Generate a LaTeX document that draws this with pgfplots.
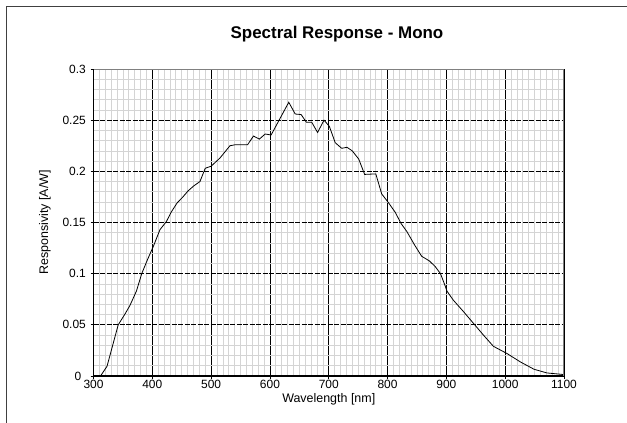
\documentclass[border=0pt]{standalone}
\usepackage{fontspec}
\setmainfont{Liberation Sans}
\usepackage{pgfplots}
\pgfplotsset{compat=1.18}
\pgfplotstableread{
x y
312 0
323 0.0095
342 0.050
354 0.061
362 0.069
373 0.083
382 0.100
392 0.114
402 0.127
413 0.143
424 0.151
432 0.160
442 0.169
452 0.175
461 0.181
471 0.186
481 0.190
490 0.203
500 0.205
515 0.213
532 0.225
541 0.226
562 0.226
572 0.2345
582 0.2315
592 0.2365
602 0.2355
632 0.2675
643 0.256
653 0.2555
662 0.248
671 0.248
681 0.238
692 0.250
701 0.244
711 0.228
722 0.2225
731 0.2235
740 0.220
751 0.212
761 0.197
780 0.1975
790 0.178
802 0.169
813 0.160
823 0.149
833 0.141
846 0.128
858 0.117
871 0.1125
881 0.107
890 0.100
898 0.088
901 0.083
907 0.078
912 0.074
929 0.063
946 0.0515
963 0.040
980 0.029
1003 0.022
1026 0.0137
1049 0.0066
1071 0.003
1100 0.0014
}\resp
\begin{document}
\begin{tikzpicture}
\useasboundingbox (0,0) rectangle (627bp,-423bp);
\draw[line width=1.3bp, color=black!75] (6.5bp,-423bp) -- (6.5bp,-6.5bp) -- (627bp,-6.5bp);
\node[font=\fontsize{17}{20}\selectfont\bfseries, anchor=center, inner sep=0pt] at (337bp,-34bp) {Spectral Response - Mono};
\begin{axis}[
  at={(93.5bp,-376bp)}, anchor=south west,
  width=470.5bp, height=307bp, scale only axis,
  xmin=300, xmax=1100, ymin=0, ymax=0.3,
  xtick={300,400,500,600,700,800,900,1000,1100},
  xticklabels={300,400,500,600,700,800,900,1000,1100},
  ytick={0,0.05,0.1,0.15,0.2,0.25,0.3},
  yticklabels={{0\hspace*{4.5bp}},0.05,0.1,0.15,0.2,0.25,0.3},
  minor x tick num=9, minor y tick num=4,
  grid=both,
  major x grid style={black, line width=0.7bp},
  major y grid style={black, line width=0.7bp, dash pattern=on 5bp off 1.5bp},
  minor grid style={black!17, line width=0.7bp},
  axis x line*=bottom, axis y line*=left,
  axis line style={black, line width=1.3bp},
  tick align=outside, major tick length=3bp, minor tick length=0pt,
  tick style={black, line width=0.7bp},
  ticklabel style={font=\fontsize{12}{14}\selectfont, inner sep=1bp},
  xticklabel style={yshift=0.5bp},
  yticklabel style={xshift=-3.5bp},
  /pgf/number format/assume math mode=true,
  xlabel={Wavelength [nm]}, ylabel={Responsivity [A/W]},
  label style={font=\fontsize{12.5}{15}\selectfont},
  xlabel style={at={(axis description cs:0.5,0)}, anchor=center, yshift=-23.5bp},
  ylabel style={at={(axis description cs:0,0.5)}, anchor=center, yshift=48.5bp},
]
\addplot[black, line width=0.8bp, mark=none] table[x=x,y=y] {\resp};
\draw[black!50, line width=1.3bp] (rel axis cs:0,1) -- (rel axis cs:1,1) -- (rel axis cs:1,0);
\end{axis}
\end{tikzpicture}
\end{document}
